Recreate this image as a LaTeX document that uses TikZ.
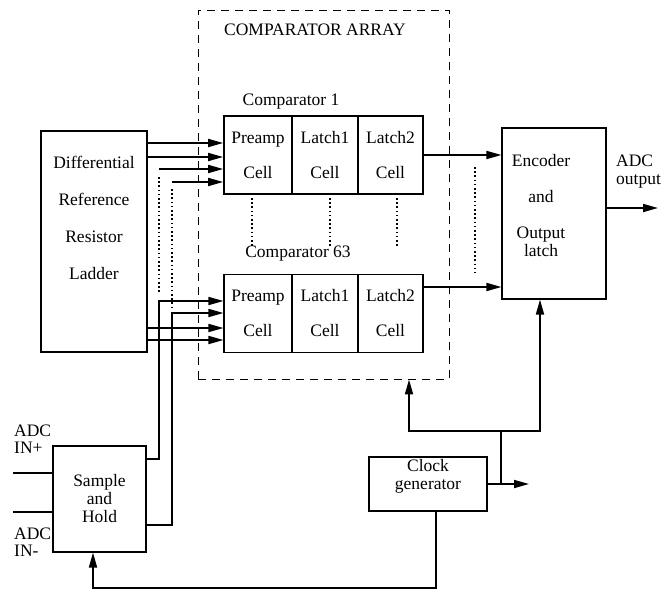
\documentclass[tikz,border=0pt]{standalone}
\usepackage{fontspec}
\setmainfont{Liberation Serif}
\usetikzlibrary{arrows.meta,positioning}
\tikzset{
  box/.style={rectangle, draw=black, line width=1.1pt, inner sep=0pt, align=center,
    font=\fontsize{17.5}{18}\selectfont},
  cell/.style={box, minimum height=78pt},
  bold/.style={line width=1.7pt},
  txt/.style={inner sep=0pt, align=center, font=\fontsize{17.5}{18}\selectfont},
  wire/.style={line width=1.7pt},
  flow/.style={-{Triangle[length=15pt,width=8pt]}, line width=1.7pt},
  dots/.style={line width=1.9pt, dash pattern=on 1.6pt off 2.6pt},
}

\begin{document}
\begin{tikzpicture}[x=1pt, y=-1pt]
\useasboundingbox (0,0) rectangle (663,594);
% comparator array frame
\node[rectangle, draw, line width=0.9pt, dash pattern=on 8pt off 6pt,
      minimum width=251pt, minimum height=369pt] at (323.5,194.5) (array) {};
\node[txt] at (315,30) (arraylbl) {COMPARATOR ARRAY};
% comparator 1
\node[txt] at (291,102) (cmp1lbl) {Comparator 1};
\node[cell, bold, minimum width=68pt] at (258,155)   (pre1) {Preamp\\[17pt]Cell};
\node[cell, bold, minimum width=66pt] at (325,155)   (lta1) {Latch1\\[17pt]Cell};
\node[cell, bold, minimum width=65pt] at (390.5,155) (ltb1) {Latch2\\[17pt]Cell};
% comparator 63
\node[txt] at (298,254) (cmp63lbl) {Comparator 63};
\node[cell, minimum width=68pt] at (258,313.5)   (pre2) {Preamp\\[17pt]Cell};
\node[cell, minimum width=66pt] at (325,313.5)   (lta2) {Latch1\\[17pt]Cell};
\node[cell, minimum width=65pt] at (390.5,313.5) (ltb2) {Latch2\\[17pt]Cell};
\foreach \xx in {252,330,397} \draw[dots] (\xx,198) -- (\xx,248);
% reference ladder
\node[box, minimum width=106pt, minimum height=221pt] at (94,241.5) (ladder) {};
\node[txt] at (94,218) (laddertxt) {Differential\\[19pt]Reference\\[19pt]Resistor\\[19pt]Ladder};
% encoder
\node[box, minimum width=104pt, minimum height=171pt] at (554,213.5) (enc) {};
\node[txt] at (541,206) (enctxt) {Encoder\\[18pt]and\\[18pt]Output\\latch};
\coordinate (out) at (658,208);
\node[txt, anchor=west, align=left] at (616,172) (outlbl) {ADC\\output};
% sample and hold
\node[box, minimum width=93pt, minimum height=106pt] at (99.5,499) (sh) {Sample\\and\\Hold};
\coordinate (inp) at (13,473);
\coordinate (inm) at (13,512);
\node[txt, anchor=west, align=left, font=\fontsize{17.5}{17}\selectfont] at (14,439) (inplbl) {ADC\\IN+};
\node[txt, anchor=west, align=left, font=\fontsize{17.5}{17}\selectfont] at (14,542) (inmlbl) {ADC\\IN-};
% clock
\node[box, minimum width=118pt, minimum height=54pt] at (428,484) (clk) {};
\node[txt] at (428,476) (clktxt) {Clock\\generator};
\coordinate (clkout) at (529,484);
\coordinate (j) at (501,431);
\coordinate (ja) at (409,431);
\coordinate (jb) at (540,431);
\coordinate (fb) at (93,588);
% ladder / sample and hold taps
\coordinate (q1) at (159,169);
\coordinate (q2) at (172,182);
\coordinate (p1) at (159,301);
\coordinate (p2) at (172,313);
% flows
\foreach \yy in {143,157} \draw[flow] (ladder.east |- 0,\yy) -- (pre1.west |- 0,\yy);
\foreach \yy in {328,340} \draw[flow] (ladder.east |- 0,\yy) -- (pre2.west |- 0,\yy);
\draw[flow] (q1) -- (pre1.west |- q1);
\draw[flow] (q2) -- (pre1.west |- q2);
\draw[dots] ([yshift=-8pt]q1) -- ([yshift=8pt]p1);
\draw[dots] ([yshift=-7pt]q2) -- ([yshift=6pt]p2);
\draw[flow] (sh.east |- 0,459) -| (p1) -- (pre2.west |- p1);
\draw[flow] (sh.east |- 0,525) -| (p2) -- (pre2.west |- p2);
\draw[wire] (inp) -- (sh.west |- inp);
\draw[wire] (inm) -- (sh.west |- inm);
\draw[flow] (ltb1.east) -- (enc.west |- ltb1.east);
\draw[flow] (ltb2.east |- 0,287) -- (enc.west |- 0,287);
\draw[dots] (475,167) -- (475,273);
\draw[flow] (enc.east |- out) -- (out);
\draw[flow] (clk.east) -- (clkout);
\draw[wire] (clk.east -| j) -- (j);
\draw[flow] (j) -- (ja) -- (ja |- array.south);
\draw[flow] (j) -- (jb) -- (jb |- enc.south);
\draw[flow] ([xshift=8pt]clk.south) |- (fb) -- (fb |- sh.south);
\end{tikzpicture}
\end{document}
